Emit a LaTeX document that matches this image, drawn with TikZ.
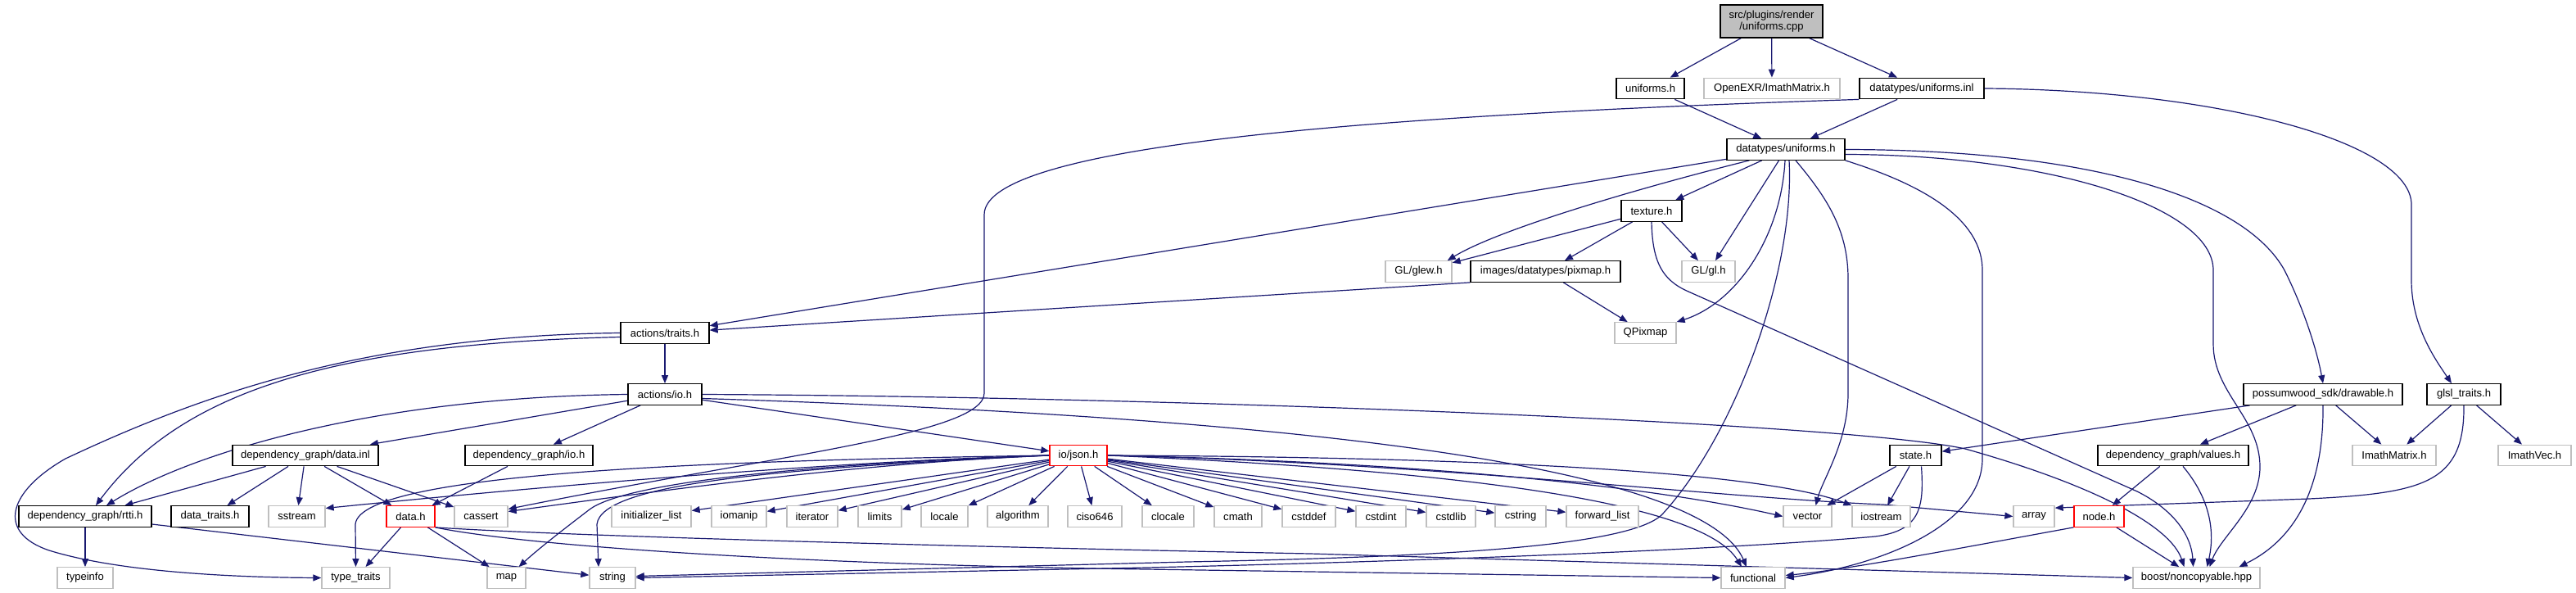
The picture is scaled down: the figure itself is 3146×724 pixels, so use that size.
\documentclass[tikz,border=0pt]{standalone}
\usepackage{fontspec}
\setmainfont{Liberation Sans}
\usetikzlibrary{arrows.meta,calc}
\definecolor{edgecol}{HTML}{191970}
\definecolor{graybox}{HTML}{BFBFBF}
\pgfdeclarelayer{bg}
\pgfsetlayers{bg,main}
\newcommand\dnode[6]{\node[#5, minimum width={(#3-#2)*0.75pt}] (#1) at ({(#2+#3)/2},#4) {#6};}
\begin{document}
\begin{tikzpicture}[x=0.75pt,y=-0.75pt,
  box/.style={draw, fill=white, line width=1pt, inner sep=0pt, minimum height=19.1pt, font=\fontsize{9.8}{11}\selectfont},
  blk/.style={box, draw=black},
  ext/.style={box, draw=graybox},
  redbox/.style={box, draw=red},
  edge/.style={draw=edgecol, line width=0.9pt, -{Triangle[length=7.5pt,width=6pt]}}]
\useasboundingbox (0,0) rectangle (3146,724);
% nodes
\dnode{root}{2101}{2226}{26}{blk, fill=graybox, align=center, minimum height=30pt}{src/plugins/render\\/uniforms.cpp}
\dnode{uh}{1974}{2057}{108}{blk}{uniforms.h}
\dnode{oexr}{2081}{2247}{108}{ext}{OpenEXR/ImathMatrix.h}
\dnode{uinl}{2271}{2423}{108}{blk}{datatypes/uniforms.inl}
\dnode{duh}{2109}{2253}{182.5}{blk}{datatypes/uniforms.h}
\dnode{tex}{1980}{2054}{257.5}{blk}{texture.h}
\dnode{glew}{1692}{1773}{331.5}{ext}{GL/glew.h}
\dnode{pixmap}{1796}{1979}{331.5}{blk}{images/datatypes/pixmap.h}
\dnode{gl}{2054}{2119}{331.5}{ext}{GL/gl.h}
\dnode{traits}{758}{866}{406.5}{blk}{actions/traits.h}
\dnode{qpix}{1972}{2047}{406.5}{ext}{QPixmap}
\dnode{aio}{767}{857}{481.5}{blk}{actions/io.h}
\dnode{drawable}{2740}{2934}{481.5}{blk}{possumwood\_sdk/drawable.h}
\dnode{glsl}{2964}{3054}{481.5}{blk}{glsl\_traits.h}
\dnode{dinl}{284}{462}{556}{blk}{dependency\_graph/data.inl}
\dnode{dio}{568}{724}{556}{blk}{dependency\_graph/io.h}
\dnode{json}{1282}{1352}{556}{redbox}{io/json.h}
\dnode{state}{2308}{2371}{556}{blk}{state.h}
\dnode{values}{2562}{2746}{556}{blk}{dependency\_graph/values.h}
\dnode{imm}{2873}{2975}{556}{ext}{ImathMatrix.h}
\dnode{imv}{3051}{3140}{556}{ext}{ImathVec.h}
\dnode{rtti}{23}{185}{630.5}{blk}{dependency\_graph/rtti.h}
\dnode{dtraits}{209}{304}{630.5}{blk}{data\_traits.h}
\dnode{sstream}{328}{397}{630.5}{ext}{sstream}
\dnode{datah}{472}{531}{630.5}{redbox}{data.h}
\dnode{cassert}{555}{620}{630.5}{ext}{cassert}
\dnode{initl}{747}{844}{630.5}{ext}{initializer\_list}
\dnode{iomanip}{869}{936}{630.5}{ext}{iomanip}
\dnode{iterator}{961}{1023}{630.5}{ext}{iterator}
\dnode{limits}{1048}{1101}{630.5}{ext}{limits}
\dnode{locale}{1125}{1182}{630.5}{ext}{locale}
\dnode{algorithm}{1206}{1280}{630.5}{ext}{algorithm}
\dnode{ciso}{1304}{1370}{630.5}{ext}{ciso646}
\dnode{clocale}{1395}{1458}{630.5}{ext}{clocale}
\dnode{cmath}{1483}{1541}{630.5}{ext}{cmath}
\dnode{cstddef}{1566}{1631}{630.5}{ext}{cstddef}
\dnode{cstdint}{1656}{1717}{630.5}{ext}{cstdint}
\dnode{cstdlib}{1742}{1802}{630.5}{ext}{cstdlib}
\dnode{cstring}{1826}{1888}{630.5}{ext}{cstring}
\dnode{fwdlist}{1913}{2001}{630.5}{ext}{forward\_list}
\dnode{vector}{2178}{2237}{630.5}{ext}{vector}
\dnode{iostream}{2262}{2333}{630.5}{ext}{iostream}
\dnode{array}{2459}{2509}{630.5}{ext}{array}
\dnode{nodeh}{2533}{2594}{630.5}{redbox}{node.h}
\dnode{typeinfo}{70}{138}{705.5}{ext}{typeinfo}
\dnode{typetraits}{393}{476}{705.5}{ext}{type\_traits}
\dnode{map}{595}{642}{705.5}{ext}{map}
\dnode{string}{720}{776}{705.5}{ext}{string}
\dnode{functional}{2102}{2180}{705.5}{ext}{functional}
\dnode{boost}{2605}{2760}{705.5}{ext}{boost/noncopyable.hpp}
\begin{pgfonlayer}{bg}
% root
\draw[edge] (root) -- (uh);
\draw[edge] (root) -- (oexr);
\draw[edge] (root) -- (uinl);
\draw[edge] (uh) -- (duh);
% uniforms.inl
\draw[edge] (uinl) -- (duh);
\draw[edge] (uinl.south west) .. controls (1700,140) and (1202,175) .. (1202,262) -- (1202,480) .. controls (1202,530) and (950,555) .. ($(cassert.east)+(0,-9)$);
\draw[edge] (uinl.east) .. controls (2711,110) and (2945,174) .. (2945,250) -- (2945,345) .. controls (2946,400) and (2975,440) .. ($(glsl.north)+(-15,0)$);
% datatypes/uniforms.h
\draw[edge] (duh) -- (traits);
\draw[edge] ($(duh.south west)+(28,0)$) .. controls (2000,230) and (1830,280) .. ($(glew.north east)+(-6,0)$);
\draw[edge] (duh) -- (tex);
\draw[edge] (duh) -- (gl);
\draw[edge] ($(duh.south)+(-1,0)$) .. controls (2175,290) and (2120,370) .. (qpix.north east);
\draw[edge] ($(duh.south)+(4,0)$) .. controls (2192,330) and (2120,530) .. (2030,628) .. controls (1990,668) and (1750,680) .. (1450,686) -- ($(string.east)+(0,-2)$);
\draw[edge] ($(duh.south)+(12,0)$) .. controls (2230,240) and (2257,280) .. (2257,340) -- (2257,480) .. controls (2257,540) and (2226,585) .. ($(vector.north)+(10,0)$);
\draw[edge] (duh.south east) .. controls (2330,220) and (2421,260) .. (2421,330) -- (2421,560) .. controls (2421,640) and (2300,690) .. (functional.east);
\draw[edge] ($(duh.east)+(0,6)$) .. controls (2500,189) and (2703,252) .. (2703,330) -- (2703,420) .. controls (2703,480) and (2760,510) .. (2760,570) .. controls (2760,620) and (2712,655) .. ($(boost.north)+(16,0)$);
\draw[edge] (duh.east) .. controls (2550,183) and (2740,240) .. (2790,330) .. controls (2815,380) and (2830,430) .. (drawable.north);
% texture.h
\draw[edge] (tex) -- (glew);
\draw[edge] (tex) -- (pixmap);
\draw[edge] (tex) -- (gl);
\draw[edge] (tex.south) .. controls (2018,320) and (2030,342) .. (2062,356) -- (2610,600) .. controls (2650,620) and (2676,650) .. ($(boost.north)+(-4,0)$);
% pixmap.h
\draw[edge] (pixmap.south west) -- (traits);
\draw[edge] (pixmap) -- (qpix);
% actions/traits.h
\draw[edge] (traits) -- (aio);
\draw[edge] ($(traits.west)+(0,5)$) .. controls (400,420) and (220,480) .. ($(rtti.north)+(13,0)$);
\draw[edge] (traits.west) .. controls (450,410) and (250,480) .. (80,560) .. controls (10,600) and (-5,650) .. (60,672) .. controls (150,700) and (300,705) .. (typetraits.west);
% actions/io.h
\draw[edge] (aio.west) .. controls (450,485) and (230,555) .. ($(rtti.north)+(26,0)$);
\draw[edge] (aio) -- (dinl);
\draw[edge] (aio) -- (dio);
\draw[edge] (aio) -- (json);
\draw[edge] ($(aio.east)+(0,5)$) .. controls (1600,510) and (2080,570) .. ($(functional.north)+(-8,0)$);
\draw[edge] (aio.east) .. controls (1400,484) and (2250,515) .. (2400,548) .. controls (2550,590) and (2650,640) .. ($(boost.north)+(-15,0)$);
% drawable.h
\draw[edge] (drawable) -- (state);
\draw[edge] (drawable) -- (values);
\draw[edge] (drawable) -- (imm);
\draw[edge] (drawable.south) .. controls (2838,600) and (2800,660) .. ($(boost.north)+(52,0)$);
% glsl_traits.h
\draw[edge] (glsl) -- (imm);
\draw[edge] (glsl) -- (imv);
\draw[edge] (glsl.south) .. controls (3010,590) and (2960,602) .. (2820,609) -- ($(array.north east)+(0,3)$);
% data.inl / io.h
\draw[edge] (dinl) -- (rtti);
\draw[edge] (dinl) -- (dtraits);
\draw[edge] (dinl) -- (sstream);
\draw[edge] (dinl) -- (datah);
\draw[edge] (dinl) -- (cassert);
\draw[edge] (dio) -- (datah);
% io/json.h
\draw[edge] (json.west) .. controls (1050,562) and (700,590) .. ($(sstream.east)+(0,-10)$);
\draw[edge] (json.west) .. controls (1050,565) and (800,600) .. ($(cassert.east)+(0,-6)$);
\draw[edge] (json.west) .. controls (900,562) and (440,575) .. (434,640) -- (typetraits.north);
\draw[edge] (json.west) .. controls (950,568) and (760,592) .. (720,622) .. controls (690,645) and (660,668) .. ($(map.north)+(15,0)$);
\draw[edge] (json.west) .. controls (950,572) and (735,590) .. (729,640) -- ($(string.north)+(-17,0)$);
\draw[edge] (json) -- (initl);
\draw[edge] (json) -- (iomanip);
\draw[edge] (json) -- (iterator);
\draw[edge] (json) -- (limits);
\draw[edge] (json) -- (locale);
\draw[edge] (json) -- (algorithm);
\draw[edge] (json) -- (ciso);
\draw[edge] (json) -- (clocale);
\draw[edge] (json) -- (cmath);
\draw[edge] (json) -- (cstddef);
\draw[edge] (json) -- (cstdint);
\draw[edge] (json) -- (cstdlib);
\draw[edge] (json) -- (cstring);
\draw[edge] (json) -- (fwdlist);
\draw[edge] (json.east) .. controls (1700,563) and (2000,590) .. (vector.west);
\draw[edge] (json.east) .. controls (1800,558) and (2150,575) .. (iostream.north west);
\draw[edge] (json.east) .. controls (1750,565) and (2100,608) .. (2300,616) -- (array.west);
\draw[edge] (json.east) .. controls (1800,575) and (2080,615) .. ($(functional.north)+(-14,0)$);
% state.h
\draw[edge] (state) -- (vector);
\draw[edge] (state) -- (iostream);
\draw[edge] ($(state.south)+(7,0)$) .. controls (2350,620) and (2345,648) .. (2290,655) .. controls (2100,672) and (1700,686) .. (1400,693) -- (string.east);
% values.h
\draw[edge] (values) -- (nodeh);
\draw[edge] ($(values.south)+(12,0)$) .. controls (2700,610) and (2705,650) .. ($(boost.north)+(13,0)$);
% data.h
\draw[edge] (datah) -- (typetraits);
\draw[edge] (datah) -- (map);
\draw[edge] (datah.south east) .. controls (700,655) and (1200,668) .. (1600,676) -- (boost.west);
\draw[edge] (datah.south east) .. controls (650,668) and (1000,690) .. (1400,695) -- (functional.west);
% rtti.h
\draw[edge] (rtti) -- (typeinfo);
\draw[edge] (rtti) -- (string);
% node.h
\draw[edge] (nodeh) -- (boost);
\draw[edge] (nodeh.south west) .. controls (2400,668) and (2260,695) .. ($(functional.east)+(0,-3)$);
\end{pgfonlayer}
\end{tikzpicture}
\end{document}
